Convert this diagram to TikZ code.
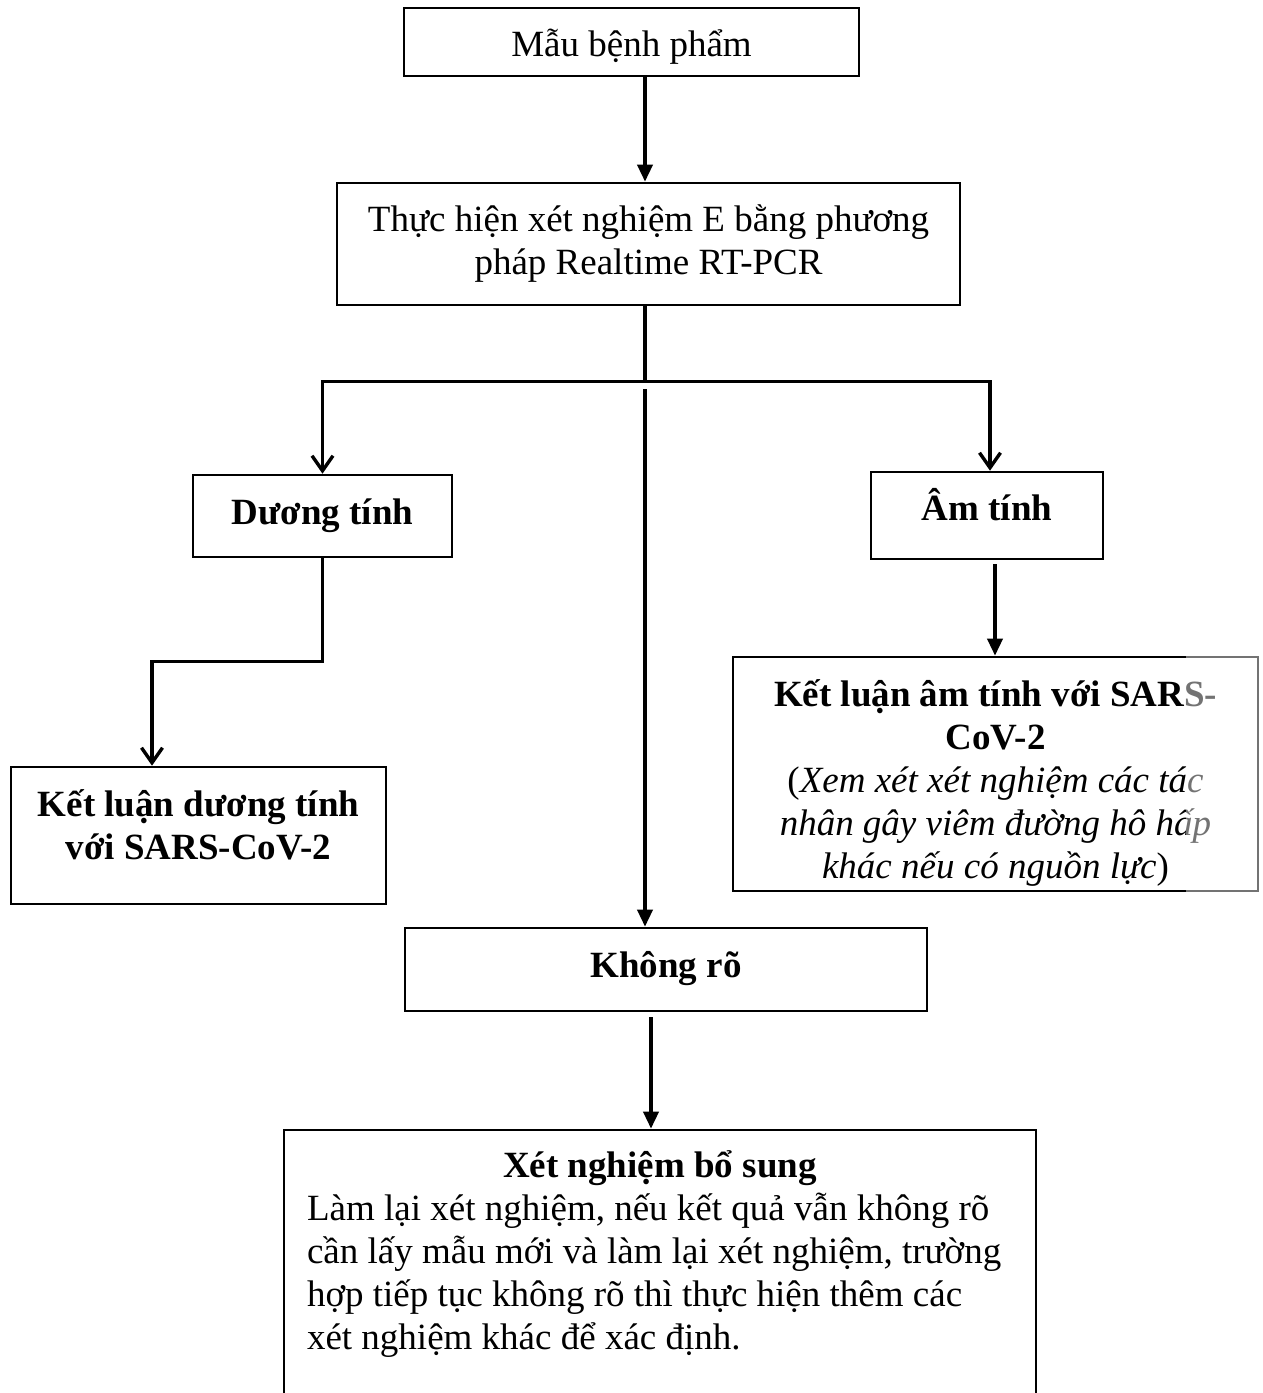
\documentclass[tikz,border=0pt]{standalone}
\usepackage{fontspec}
\setmainfont{Liberation Serif}
\usetikzlibrary{arrows.meta}
\begin{document}
\begin{tikzpicture}[x=1pt,y=-1pt,
  box/.style={draw,line width=2.6pt,rectangle,inner sep=0pt,align=center,
    font=\fontsize{37}{43}\selectfont},
  conn/.style={line width=3.6pt},
  farrow/.style={conn,-{Triangle[length=17pt,width=15pt]}},
  oarrow/.style={conn,-{Straight Barb[length=15pt,width=21pt,line width=3.4pt]}},
]
\clip (0,0) rectangle (1262,1393);
\fill[white] (0,0) rectangle (1262,1393);

\node[box,minimum width=455pt,minimum height=68pt] (box1) at (631.5,42) {\rule{0pt}{36pt}Mẫu bệnh phẩm};
\node[box,minimum width=623pt,minimum height=122pt] (box2) at (648.5,244)
  {Thực hiện xét nghiệm E bằng phương\\pháp Realtime RT-PCR};
\node[box,minimum width=259pt,minimum height=82pt] (duong) at (322.5,516) {\textbf{Dương tính}};
\node[box,minimum width=232pt,minimum height=87pt] (am) at (987,515.5) {\textbf{Âm tính}\\[-20pt]};
\node[box,minimum width=375pt,minimum height=137pt] (kldt) at (198.5,835.5)
  {\textbf{Kết luận dương tính}\\\textbf{với SARS-CoV-2}\\[-22pt]};
\node[box,minimum width=525pt,minimum height=234pt] (klat) at (995.5,774)
  {\rule{0pt}{45pt}\textbf{Kết luận âm tính với SARS-}\\\textbf{CoV-2}\\
   (\textit{Xem xét xét nghiệm các tác}\\
   \textit{nhân gây viêm đường hô hấp}\\
   \textit{khác nếu có nguồn lực})};
\node[box,minimum width=522pt,minimum height=83pt] (khong) at (666,969.5) {\textbf{Không rõ}\\[-32pt]};
\node[box,minimum width=752pt,minimum height=280pt] (bs) at (660,1270)
  {\parbox{706pt}{\fontsize{37}{43}\selectfont
   {\centering\textbf{Xét nghiệm bổ sung}\par}
   \raggedright Làm lại xét nghiệm, nếu kết quả vẫn không rõ\\
   cần lấy mẫu mới và làm lại xét nghiệm, trường\\
   hợp tiếp tục không rõ thì thực hiện thêm các\\
   xét nghiệm khác để xác định.\\[32pt]}};

% fade on the right edge of the negative conclusion box
\fill[white,opacity=0.45] (1186,648) rectangle (1262,898);

% connectors
\draw[farrow] ([xshift=13.5pt]box1.south) -- ([xshift=-3.5pt]box2.north);
\draw[conn] ([xshift=-3.5pt]box2.south) -- ++(0,75) coordinate (split);
\draw[oarrow] ([xshift=1pt]split) -| (duong.north);
\draw[oarrow] ([xshift=-1pt]split) -| ([xshift=3pt]am.north);
\draw[farrow] (split) ++(0,8) -- (split |- khong.north);
\draw[oarrow] (duong.south) -- ++(0,103) -| ([xshift=-46.5pt]kldt.north);
\draw[farrow] ([xshift=8pt,yshift=-4pt]am.south) -- ([xshift=8pt]am.south |- klat.north);
\draw[farrow] ([xshift=-15pt,yshift=-5pt]khong.south) -- ([xshift=-15pt]khong.south |- bs.north);
\end{tikzpicture}
\end{document}
